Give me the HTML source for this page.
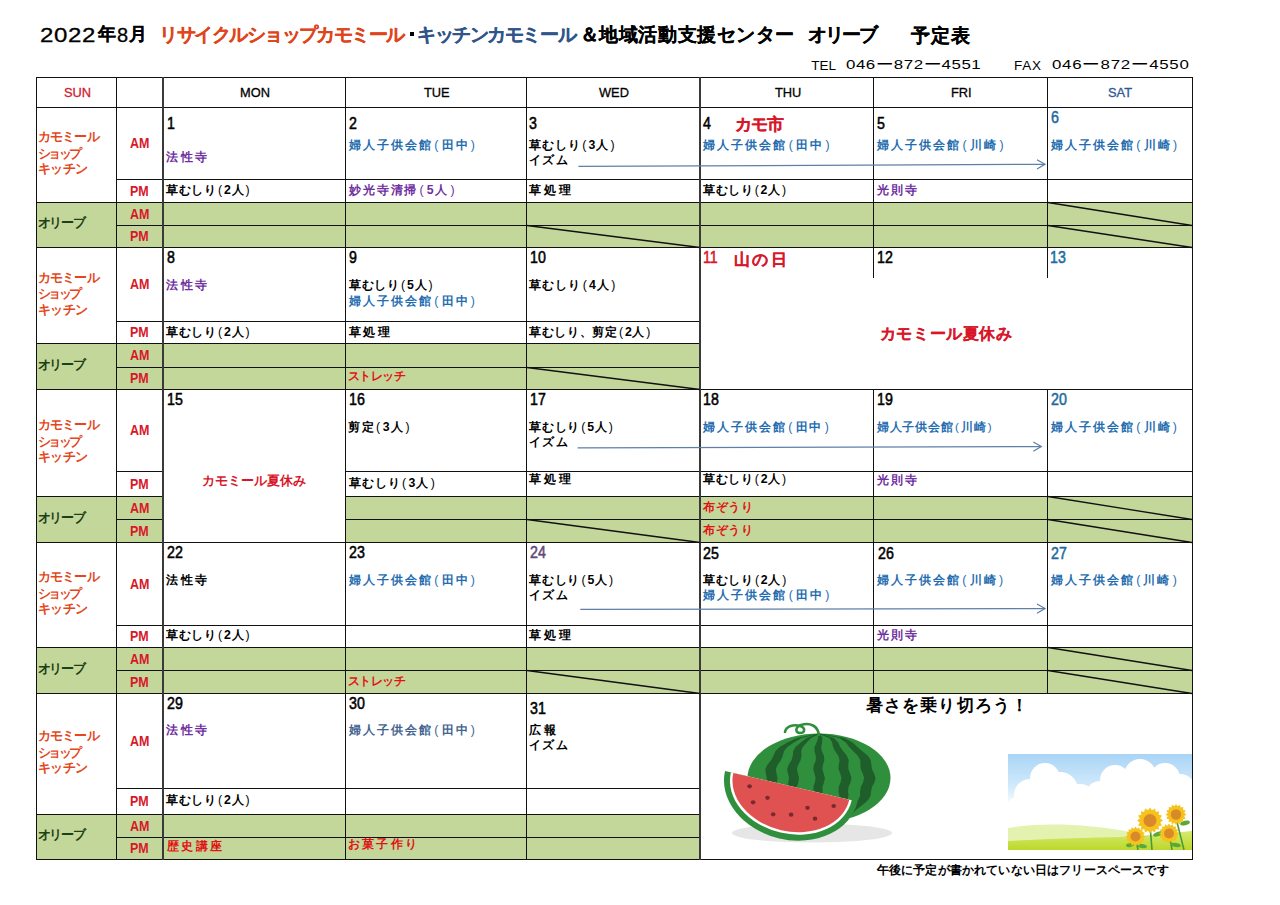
<!DOCTYPE html>
<html lang="ja"><head><meta charset="utf-8"><style>
html,body{margin:0;padding:0;background:#fff;}
body{width:1280px;height:905px;position:relative;overflow:hidden;font-family:"Liberation Sans",sans-serif;}
.r{position:absolute}
.t{position:absolute;white-space:nowrap;line-height:1}
.p{font-weight:normal;margin:0 1.2px}
svg{position:absolute;left:0;top:0}
</style></head><body>
<div class="r" style="left:36px;top:202px;width:1156px;height:45px;background:#c4d79b"></div>
<div class="r" style="left:36px;top:343px;width:664px;height:46px;background:#c4d79b"></div>
<div class="r" style="left:36px;top:496px;width:127px;height:46px;background:#c4d79b"></div>
<div class="r" style="left:345px;top:496px;width:847px;height:46px;background:#c4d79b"></div>
<div class="r" style="left:36px;top:647px;width:1156px;height:46px;background:#c4d79b"></div>
<div class="r" style="left:36px;top:814px;width:664px;height:45px;background:#c4d79b"></div>
<div class="r" style="left:36px;top:77px;width:1157px;height:1px;background:#111"></div>
<div class="r" style="left:36px;top:107px;width:1157px;height:1px;background:#111"></div>
<div class="r" style="left:116px;top:179px;width:1077px;height:1px;background:#111"></div>
<div class="r" style="left:36px;top:202px;width:1157px;height:1px;background:#111"></div>
<div class="r" style="left:116px;top:225px;width:1077px;height:1px;background:#111"></div>
<div class="r" style="left:36px;top:247px;width:1157px;height:1px;background:#111"></div>
<div class="r" style="left:116px;top:321px;width:585px;height:1px;background:#111"></div>
<div class="r" style="left:36px;top:343px;width:665px;height:1px;background:#111"></div>
<div class="r" style="left:116px;top:367px;width:585px;height:1px;background:#111"></div>
<div class="r" style="left:36px;top:389px;width:1157px;height:1px;background:#111"></div>
<div class="r" style="left:116px;top:471px;width:48px;height:1px;background:#111"></div>
<div class="r" style="left:345px;top:471px;width:848px;height:1px;background:#111"></div>
<div class="r" style="left:36px;top:496px;width:128px;height:1px;background:#111"></div>
<div class="r" style="left:345px;top:496px;width:848px;height:1px;background:#111"></div>
<div class="r" style="left:116px;top:519px;width:48px;height:1px;background:#111"></div>
<div class="r" style="left:345px;top:519px;width:848px;height:1px;background:#111"></div>
<div class="r" style="left:36px;top:542px;width:1157px;height:1px;background:#111"></div>
<div class="r" style="left:116px;top:625px;width:1077px;height:1px;background:#111"></div>
<div class="r" style="left:36px;top:647px;width:1157px;height:1px;background:#111"></div>
<div class="r" style="left:116px;top:670px;width:1077px;height:1px;background:#111"></div>
<div class="r" style="left:36px;top:693px;width:1157px;height:1px;background:#111"></div>
<div class="r" style="left:116px;top:788px;width:585px;height:1px;background:#111"></div>
<div class="r" style="left:36px;top:814px;width:665px;height:1px;background:#111"></div>
<div class="r" style="left:116px;top:837px;width:585px;height:1px;background:#111"></div>
<div class="r" style="left:36px;top:859px;width:1157px;height:1px;background:#111"></div>
<div class="r" style="left:36px;top:77px;width:1px;height:783px;background:#111"></div>
<div class="r" style="left:116px;top:77px;width:1px;height:783px;background:#111"></div>
<div class="r" style="left:162px;top:77px;width:2px;height:783px;background:#3a3a3a"></div>
<div class="r" style="left:345px;top:77px;width:1px;height:783px;background:#111"></div>
<div class="r" style="left:526px;top:77px;width:1px;height:783px;background:#111"></div>
<div class="r" style="left:1192px;top:77px;width:1px;height:783px;background:#111"></div>
<div class="r" style="left:699px;top:77px;width:2px;height:783px;background:#3a3a3a"></div>
<div class="r" style="left:873px;top:77px;width:1px;height:171px;background:#111"></div>
<div class="r" style="left:873px;top:247px;width:1px;height:31px;background:#111"></div>
<div class="r" style="left:873px;top:389px;width:1px;height:305px;background:#111"></div>
<div class="r" style="left:1047px;top:77px;width:1px;height:171px;background:#111"></div>
<div class="r" style="left:1047px;top:247px;width:1px;height:31px;background:#111"></div>
<div class="r" style="left:1047px;top:389px;width:1px;height:305px;background:#111"></div>
<div class="r" style="left:410px;top:32px;width:4px;height:4px;background:#000"></div>
<svg width="1280" height="905"><line x1="527" y1="225.5" x2="700" y2="247.5" stroke="#111" stroke-width="1.3"/><line x1="1048" y1="202.5" x2="1192" y2="225.5" stroke="#111" stroke-width="1.3"/><line x1="1048" y1="225.5" x2="1192" y2="247.5" stroke="#111" stroke-width="1.3"/><line x1="527" y1="367.5" x2="700" y2="389.5" stroke="#111" stroke-width="1.3"/><line x1="527" y1="519.5" x2="700" y2="542.5" stroke="#111" stroke-width="1.3"/><line x1="1048" y1="496.5" x2="1192" y2="519.5" stroke="#111" stroke-width="1.3"/><line x1="1048" y1="519.5" x2="1192" y2="542.5" stroke="#111" stroke-width="1.3"/><line x1="527" y1="670.5" x2="700" y2="693.5" stroke="#111" stroke-width="1.3"/><line x1="1048" y1="647.5" x2="1192" y2="670.5" stroke="#111" stroke-width="1.3"/><line x1="1048" y1="670.5" x2="1192" y2="693.5" stroke="#111" stroke-width="1.3"/><ellipse cx="812" cy="833" rx="80" ry="9.5" fill="#e6e6e6"/><ellipse cx="819" cy="778" rx="71.5" ry="44.5" fill="#2f8f3c"/><clipPath id="mc"><ellipse cx="819" cy="778" rx="71.5" ry="44.5"/></clipPath><g clip-path="url(#mc)" fill="#1f5e2a"><polygon points="817.7,733.5 797.0,738.0 787.3,742.4 779.7,746.9 775.4,751.3 773.5,755.8 771.1,760.2 767.5,764.6 765.3,769.1 765.8,773.5 766.8,778.0 766.2,782.5 765.4,786.9 767.2,791.4 770.9,795.8 773.8,800.2 775.7,804.7 779.5,809.1 787.0,813.6 797.0,818.0 818.0,822.5 820.7,822.5 801.6,818.0 793.4,813.6 787.2,809.1 784.3,804.7 783.0,800.2 780.7,795.8 777.4,791.4 775.9,786.9 776.8,782.5 777.5,778.0 776.5,773.5 775.8,769.1 777.7,764.6 780.9,760.2 782.8,755.8 784.0,751.3 787.3,746.9 793.8,742.4 801.6,738.0 820.3,733.5"/><polygon points="817.7,733.5 806.7,738.0 800.7,742.4 795.5,746.9 793.2,751.3 792.8,755.8 791.5,760.2 788.7,764.6 787.1,769.1 787.9,773.5 789.0,778.0 788.3,782.5 787.2,786.9 788.4,791.4 791.2,795.8 793.0,800.2 793.5,804.7 795.4,809.1 800.3,813.6 806.7,818.0 818.1,822.5 820.6,822.5 811.0,818.0 806.3,813.6 802.6,809.1 801.5,804.7 801.7,800.2 800.4,795.8 797.9,791.4 797.0,786.9 798.3,782.5 799.0,778.0 797.9,773.5 796.9,769.1 798.3,764.6 800.6,760.2 801.5,755.8 801.2,751.3 802.7,746.9 806.7,742.4 811.0,738.0 820.3,733.5"/><polygon points="817.8,733.5 818.3,738.0 816.6,742.4 814.5,746.9 814.5,751.3 815.8,755.8 815.9,760.2 814.1,764.6 813.2,769.1 814.4,773.5 815.6,778.0 814.8,782.5 813.3,786.9 813.8,791.4 815.6,795.8 816.1,800.2 814.8,804.7 814.4,809.1 816.3,813.6 818.3,818.0 818.2,822.5 820.5,822.5 822.3,818.0 821.9,813.6 821.1,809.1 822.2,804.7 824.1,800.2 824.1,795.8 822.6,791.4 822.4,786.9 824.0,782.5 824.9,778.0 823.7,773.5 822.3,769.1 823.0,764.6 824.4,760.2 823.9,755.8 821.9,751.3 821.2,746.9 822.2,742.4 822.3,738.0 820.2,733.5"/><polygon points="817.7,733.5 829.5,738.0 832.2,742.4 833.0,746.9 835.2,751.3 838.3,755.8 839.6,760.2 838.8,764.6 838.5,769.1 840.2,773.5 841.5,778.0 840.5,782.5 838.7,786.9 838.5,791.4 839.4,795.8 838.5,800.2 835.5,804.7 832.9,809.1 831.8,813.6 829.6,818.0 818.1,822.5 820.6,822.5 833.9,818.0 837.8,813.6 840.1,809.1 843.5,804.7 847.2,800.2 848.5,795.8 848.0,791.4 848.5,786.9 850.5,782.5 851.5,778.0 850.1,773.5 848.4,769.1 848.3,764.6 848.8,760.2 846.9,755.8 843.2,751.3 840.2,746.9 838.2,742.4 833.9,738.0 820.3,733.5"/><polygon points="817.6,733.5 839.4,738.0 845.8,742.4 849.2,746.9 853.3,751.3 857.8,755.8 860.3,760.2 860.4,764.6 860.7,769.1 862.7,773.5 864.2,778.0 863.0,782.5 860.8,786.9 860.1,791.4 860.1,795.8 858.1,800.2 853.6,804.7 849.1,809.1 845.4,813.6 839.4,818.0 817.9,822.5 820.8,822.5 844.4,818.0 852.3,813.6 857.2,809.1 862.7,804.7 868.0,800.2 870.6,795.8 871.0,791.4 872.0,786.9 874.4,782.5 875.6,778.0 874.1,773.5 871.9,769.1 871.3,764.6 870.8,760.2 867.8,755.8 862.4,751.3 857.4,746.9 852.6,742.4 844.4,738.0 820.4,733.5"/></g><path d="M785,732 C786,726 794,724 800,726 C806,728 805,733 800,733 C795,733 795,727 801,725 C810,722 818,726 819,735" fill="none" stroke="#2f8f3c" stroke-width="2.6" stroke-linecap="round"/><g transform="translate(791.3,786.3) rotate(13)"><path d="M-68,0 A68,53.5 0 0 0 68,0 Z" fill="#2f8f3c"/><path d="M-62,0 A62,47.5 0 0 0 62,0 Z" fill="#ffffff"/><path d="M-59.5,0 A59.5,45 0 0 0 59.5,0 Z" fill="#e05252"/></g><ellipse cx="749.6" cy="786.3" rx="2.3" ry="2.1" fill="#7a2a2a"/><ellipse cx="767.5" cy="797.8" rx="2.3" ry="2.1" fill="#7a2a2a"/><ellipse cx="753.1" cy="802.3" rx="2.3" ry="2.1" fill="#7a2a2a"/><ellipse cx="773.2" cy="814.3" rx="2.3" ry="2.1" fill="#7a2a2a"/><ellipse cx="791.1" cy="814.7" rx="2.3" ry="2.1" fill="#7a2a2a"/><ellipse cx="807.5" cy="807.8" rx="2.3" ry="2.1" fill="#7a2a2a"/><ellipse cx="815" cy="818.7" rx="2.3" ry="2.1" fill="#7a2a2a"/><ellipse cx="833.7" cy="806" rx="2.3" ry="2.1" fill="#7a2a2a"/><defs><linearGradient id="sg" x1="0" y1="0" x2="0" y2="1"><stop offset="0" stop-color="#a9d4f6"/><stop offset="0.35" stop-color="#d4ebfb"/><stop offset="0.55" stop-color="#ffffff"/><stop offset="1" stop-color="#ffffff"/></linearGradient><linearGradient id="gg" x1="0" y1="0" x2="0" y2="1"><stop offset="0" stop-color="#d6ea70"/><stop offset="1" stop-color="#bcd82a"/></linearGradient></defs><rect x="1008" y="754" width="184" height="96" fill="url(#sg)"/><clipPath id="sc"><rect x="1008" y="754" width="184" height="96"/></clipPath><g clip-path="url(#sc)"><circle cx="1045" cy="778" r="15" fill="#ffffff"/><circle cx="1030" cy="795" r="16" fill="#ffffff"/><circle cx="1060" cy="790" r="18" fill="#ffffff"/><circle cx="1080" cy="800" r="16" fill="#ffffff"/><circle cx="1100" cy="795" r="14" fill="#ffffff"/><circle cx="1115" cy="780" r="15" fill="#ffffff"/><circle cx="1140" cy="775" r="16" fill="#ffffff"/><circle cx="1165" cy="778" r="15" fill="#ffffff"/><circle cx="1180" cy="790" r="16" fill="#ffffff"/><circle cx="1150" cy="800" r="20" fill="#ffffff"/><circle cx="1120" cy="805" r="18" fill="#ffffff"/><circle cx="1020" cy="810" r="14" fill="#ffffff"/><circle cx="1050" cy="810" r="16" fill="#ffffff"/><circle cx="1090" cy="815" r="15" fill="#ffffff"/><circle cx="1170" cy="805" r="14" fill="#ffffff"/><circle cx="1132" cy="792" r="11" fill="#ffffff"/><circle cx="1185" cy="800" r="12" fill="#ffffff"/><path d="M1008,828 C1040,822 1090,824 1130,832 L1130,850 L1008,850 Z" fill="#e4f2b0"/><path d="M1008,841 C1060,838 1100,838 1140,836 C1160,834 1180,832 1192,831 L1192,850 L1008,850 Z" fill="url(#gg)"/><line x1="1150" y1="825" x2="1152" y2="850" stroke="#4a9a3a" stroke-width="1.6"/><line x1="1176" y1="818" x2="1184" y2="850" stroke="#4a9a3a" stroke-width="1.6"/><line x1="1136" y1="840" x2="1138" y2="850" stroke="#4a9a3a" stroke-width="1.6"/><line x1="1170" y1="838" x2="1172" y2="850" stroke="#4a9a3a" stroke-width="1.6"/><ellipse cx="1158" cy="834" rx="5" ry="2.2" transform="rotate(-20 1158 834)" fill="#5aa83a"/><ellipse cx="1185" cy="823" rx="5" ry="2.2" transform="rotate(-15 1185 823)" fill="#5aa83a"/><ellipse cx="1142" cy="846" rx="5" ry="2" transform="rotate(10 1142 846)" fill="#5aa83a"/><ellipse cx="1176" cy="845" rx="5" ry="2" transform="rotate(10 1176 845)" fill="#5aa83a"/><ellipse cx="1130" cy="845" rx="4" ry="2" transform="rotate(-10 1130 845)" fill="#5aa83a"/><polygon points="1163.0,820.5 1160.2,822.5 1162.0,825.5 1158.6,826.3 1159.2,829.7 1155.8,829.1 1155.0,832.5 1152.0,830.7 1150.0,833.5 1148.0,830.7 1145.0,832.5 1144.2,829.1 1140.8,829.7 1141.4,826.3 1138.0,825.5 1139.8,822.5 1137.0,820.5 1139.8,818.5 1138.0,815.5 1141.4,814.7 1140.8,811.3 1144.2,811.9 1145.0,808.5 1148.0,810.3 1150.0,807.5 1152.0,810.3 1155.0,808.5 1155.8,811.9 1159.2,811.3 1158.6,814.7 1162.0,815.5 1160.2,818.5" fill="#f6c21c"/><circle cx="1150" cy="820.5" r="6.5" fill="#d88a2a"/><polygon points="1186.5,814.5 1184.2,816.1 1185.7,818.5 1183.0,819.2 1183.4,821.9 1180.7,821.5 1180.0,824.2 1177.6,822.7 1176.0,825.0 1174.4,822.7 1172.0,824.2 1171.3,821.5 1168.6,821.9 1169.0,819.2 1166.3,818.5 1167.8,816.1 1165.5,814.5 1167.8,812.9 1166.3,810.5 1169.0,809.8 1168.6,807.1 1171.3,807.5 1172.0,804.8 1174.4,806.3 1176.0,804.0 1177.6,806.3 1180.0,804.8 1180.7,807.5 1183.4,807.1 1183.0,809.8 1185.7,810.5 1184.2,812.9" fill="#f6c21c"/><circle cx="1176" cy="814.5" r="5.2" fill="#d88a2a"/><polygon points="1145.5,836.5 1143.3,838.1 1144.7,840.3 1142.2,840.9 1142.6,843.6 1139.9,843.2 1139.3,845.7 1137.1,844.3 1135.5,846.5 1133.9,844.3 1131.7,845.7 1131.1,843.2 1128.4,843.6 1128.8,840.9 1126.3,840.3 1127.7,838.1 1125.5,836.5 1127.7,834.9 1126.3,832.7 1128.8,832.1 1128.4,829.4 1131.1,829.8 1131.7,827.3 1133.9,828.7 1135.5,826.5 1137.1,828.7 1139.3,827.3 1139.9,829.8 1142.6,829.4 1142.2,832.1 1144.7,832.7 1143.3,834.9" fill="#f6c21c"/><circle cx="1135.5" cy="836.5" r="5.0" fill="#d88a2a"/><polygon points="1179.0,833.5 1176.8,835.1 1178.2,837.3 1175.7,837.9 1176.1,840.6 1173.4,840.2 1172.8,842.7 1170.6,841.3 1169.0,843.5 1167.4,841.3 1165.2,842.7 1164.6,840.2 1161.9,840.6 1162.3,837.9 1159.8,837.3 1161.2,835.1 1159.0,833.5 1161.2,831.9 1159.8,829.7 1162.3,829.1 1161.9,826.4 1164.6,826.8 1165.2,824.3 1167.4,825.7 1169.0,823.5 1170.6,825.7 1172.8,824.3 1173.4,826.8 1176.1,826.4 1175.7,829.1 1178.2,829.7 1176.8,831.9" fill="#f6c21c"/><circle cx="1169" cy="833.5" r="5.0" fill="#d88a2a"/></g><line x1="578.4" y1="166.4" x2="1045" y2="164.3" stroke="#5f7fa6" stroke-width="1.2"/><polyline points="1037,159.70000000000002 1045,164.3 1037,168.9" fill="none" stroke="#5f7fa6" stroke-width="1.2"/><line x1="577.6" y1="447.8" x2="1041.3" y2="446.6" stroke="#5f7fa6" stroke-width="1.2"/><polyline points="1033.3,442.0 1041.3,446.6 1033.3,451.20000000000005" fill="none" stroke="#5f7fa6" stroke-width="1.2"/><line x1="580.3" y1="609.4" x2="1045" y2="608.6" stroke="#5f7fa6" stroke-width="1.2"/><polyline points="1037,604.0 1045,608.6 1037,613.2" fill="none" stroke="#5f7fa6" stroke-width="1.2"/></svg>
<div class="t" style="left:39.8px;top:24.5px;color:#000;font-size:20px;font-weight:normal;-webkit-text-stroke:0.3px;transform:scaleX(1.2);transform-origin:0 0;letter-spacing:0.528px;">2022</div>
<div class="t" style="left:98.0px;top:25.2px;color:#000;font-size:18px;font-weight:bold;-webkit-text-stroke:0.15px;">年</div>
<div class="t" style="left:117.1px;top:24.5px;color:#000;font-size:20px;font-weight:normal;-webkit-text-stroke:0.3px;transform:scaleX(1.0);transform-origin:0 0;">8</div>
<div class="t" style="left:129.4px;top:25.1px;color:#000;font-size:18px;font-weight:bold;-webkit-text-stroke:0.15px;">月</div>
<div class="t" style="left:159.4px;top:24.9px;color:#e0441a;font-size:19px;font-weight:bold;-webkit-text-stroke:0.15px;letter-spacing:-1.554px;">リサイクルショップカモミール</div>
<div class="t" style="left:417.1px;top:24.5px;color:#30558a;font-size:19px;font-weight:bold;-webkit-text-stroke:0.15px;letter-spacing:-1.438px;">キッチンカモミール</div>
<div class="t" style="left:579.8px;top:25.4px;color:#000;font-size:19px;font-weight:bold;-webkit-text-stroke:0.15px;letter-spacing:0.560px;">＆地域活動支援センター</div>
<div class="t" style="left:808.2px;top:24.8px;color:#000;font-size:19px;font-weight:bold;-webkit-text-stroke:0.15px;letter-spacing:-2.067px;">オリーブ</div>
<div class="t" style="left:910.9px;top:26.4px;color:#000;font-size:19px;font-weight:bold;-webkit-text-stroke:0.15px;letter-spacing:0.900px;">予定表</div>
<div class="t" style="left:811.3px;top:58.9px;color:#000;font-size:13.5px;font-weight:normal;letter-spacing:-0.050px;">TEL</div>
<div class="t" style="left:846.2px;top:58.0px;color:#000;font-size:13.5px;font-weight:normal;transform:scaleX(1.25);transform-origin:0 0;letter-spacing:0.429px;">046ー872ー4551</div>
<div class="t" style="left:1014.0px;top:58.9px;color:#000;font-size:13.5px;font-weight:normal;letter-spacing:0.800px;">FAX</div>
<div class="t" style="left:1051.5px;top:58.0px;color:#000;font-size:13.5px;font-weight:normal;transform:scaleX(1.25);transform-origin:0 0;letter-spacing:0.582px;">046ー872ー4550</div>
<div class="t" style="left:63.5px;top:86.2px;color:#d0202e;font-size:13.5px;font-weight:normal;-webkit-text-stroke:0.3px;transform:scaleX(0.95);transform-origin:0 0;">SUN</div>
<div class="t" style="left:240.0px;top:86.2px;color:#000;font-size:13.5px;font-weight:normal;-webkit-text-stroke:0.3px;transform:scaleX(0.95);transform-origin:0 0;">MON</div>
<div class="t" style="left:424.0px;top:86.2px;color:#000;font-size:13.5px;font-weight:normal;-webkit-text-stroke:0.3px;transform:scaleX(0.95);transform-origin:0 0;">TUE</div>
<div class="t" style="left:599.0px;top:86.2px;color:#000;font-size:13.5px;font-weight:normal;-webkit-text-stroke:0.3px;transform:scaleX(0.95);transform-origin:0 0;">WED</div>
<div class="t" style="left:774.5px;top:86.2px;color:#000;font-size:13.5px;font-weight:normal;-webkit-text-stroke:0.3px;transform:scaleX(0.95);transform-origin:0 0;">THU</div>
<div class="t" style="left:950.5px;top:86.2px;color:#000;font-size:13.5px;font-weight:normal;-webkit-text-stroke:0.3px;transform:scaleX(0.95);transform-origin:0 0;">FRI</div>
<div class="t" style="left:1108.0px;top:86.2px;color:#2f5597;font-size:13.5px;font-weight:normal;-webkit-text-stroke:0.3px;transform:scaleX(0.95);transform-origin:0 0;">SAT</div>
<div class="t" style="left:38.0px;top:131.0px;color:#e4471c;font-size:12.5px;font-weight:bold;letter-spacing:-0.875px;">カモミール</div>
<div class="t" style="left:38.0px;top:147.9px;color:#e4471c;font-size:12.5px;font-weight:bold;letter-spacing:-2.733px;">ショップ</div>
<div class="t" style="left:38.0px;top:163.0px;color:#e4471c;font-size:12.5px;font-weight:bold;letter-spacing:-0.667px;">キッチン</div>
<div class="t" style="left:37.5px;top:216.4px;color:#1e4014;font-size:13px;font-weight:bold;letter-spacing:-1.067px;">オリーブ</div>
<div class="t" style="left:130.2px;top:136.1px;color:#d8182a;font-size:14.5px;font-weight:bold;transform:scaleX(0.86);transform-origin:0 0;">AM</div>
<div class="t" style="left:130.2px;top:183.6px;color:#d8182a;font-size:14.5px;font-weight:bold;transform:scaleX(0.86);transform-origin:0 0;">PM</div>
<div class="t" style="left:130.2px;top:206.6px;color:#d8182a;font-size:14.5px;font-weight:bold;transform:scaleX(0.86);transform-origin:0 0;">AM</div>
<div class="t" style="left:130.2px;top:229.1px;color:#d8182a;font-size:14.5px;font-weight:bold;transform:scaleX(0.86);transform-origin:0 0;">PM</div>
<div class="t" style="left:38.0px;top:271.5px;color:#e4471c;font-size:12.5px;font-weight:bold;letter-spacing:-0.875px;">カモミール</div>
<div class="t" style="left:38.0px;top:288.4px;color:#e4471c;font-size:12.5px;font-weight:bold;letter-spacing:-2.733px;">ショップ</div>
<div class="t" style="left:38.0px;top:303.5px;color:#e4471c;font-size:12.5px;font-weight:bold;letter-spacing:-0.667px;">キッチン</div>
<div class="t" style="left:37.5px;top:357.9px;color:#1e4014;font-size:13px;font-weight:bold;letter-spacing:-1.067px;">オリーブ</div>
<div class="t" style="left:130.2px;top:277.1px;color:#d8182a;font-size:14.5px;font-weight:bold;transform:scaleX(0.86);transform-origin:0 0;">AM</div>
<div class="t" style="left:130.2px;top:325.1px;color:#d8182a;font-size:14.5px;font-weight:bold;transform:scaleX(0.86);transform-origin:0 0;">PM</div>
<div class="t" style="left:130.2px;top:348.1px;color:#d8182a;font-size:14.5px;font-weight:bold;transform:scaleX(0.86);transform-origin:0 0;">AM</div>
<div class="t" style="left:130.2px;top:371.1px;color:#d8182a;font-size:14.5px;font-weight:bold;transform:scaleX(0.86);transform-origin:0 0;">PM</div>
<div class="t" style="left:38.0px;top:419.0px;color:#e4471c;font-size:12.5px;font-weight:bold;letter-spacing:-0.875px;">カモミール</div>
<div class="t" style="left:38.0px;top:435.9px;color:#e4471c;font-size:12.5px;font-weight:bold;letter-spacing:-2.733px;">ショップ</div>
<div class="t" style="left:38.0px;top:451.0px;color:#e4471c;font-size:12.5px;font-weight:bold;letter-spacing:-0.667px;">キッチン</div>
<div class="t" style="left:37.5px;top:510.9px;color:#1e4014;font-size:13px;font-weight:bold;letter-spacing:-1.067px;">オリーブ</div>
<div class="t" style="left:130.2px;top:423.1px;color:#d8182a;font-size:14.5px;font-weight:bold;transform:scaleX(0.86);transform-origin:0 0;">AM</div>
<div class="t" style="left:130.2px;top:476.6px;color:#d8182a;font-size:14.5px;font-weight:bold;transform:scaleX(0.86);transform-origin:0 0;">PM</div>
<div class="t" style="left:130.2px;top:500.6px;color:#d8182a;font-size:14.5px;font-weight:bold;transform:scaleX(0.86);transform-origin:0 0;">AM</div>
<div class="t" style="left:130.2px;top:523.6px;color:#d8182a;font-size:14.5px;font-weight:bold;transform:scaleX(0.86);transform-origin:0 0;">PM</div>
<div class="t" style="left:38.0px;top:571.0px;color:#e4471c;font-size:12.5px;font-weight:bold;letter-spacing:-0.875px;">カモミール</div>
<div class="t" style="left:38.0px;top:587.9px;color:#e4471c;font-size:12.5px;font-weight:bold;letter-spacing:-2.733px;">ショップ</div>
<div class="t" style="left:38.0px;top:603.0px;color:#e4471c;font-size:12.5px;font-weight:bold;letter-spacing:-0.667px;">キッチン</div>
<div class="t" style="left:37.5px;top:661.9px;color:#1e4014;font-size:13px;font-weight:bold;letter-spacing:-1.067px;">オリーブ</div>
<div class="t" style="left:130.2px;top:576.6px;color:#d8182a;font-size:14.5px;font-weight:bold;transform:scaleX(0.86);transform-origin:0 0;">AM</div>
<div class="t" style="left:130.2px;top:629.1px;color:#d8182a;font-size:14.5px;font-weight:bold;transform:scaleX(0.86);transform-origin:0 0;">PM</div>
<div class="t" style="left:130.2px;top:651.6px;color:#d8182a;font-size:14.5px;font-weight:bold;transform:scaleX(0.86);transform-origin:0 0;">AM</div>
<div class="t" style="left:130.2px;top:674.6px;color:#d8182a;font-size:14.5px;font-weight:bold;transform:scaleX(0.86);transform-origin:0 0;">PM</div>
<div class="t" style="left:38.0px;top:730.0px;color:#e4471c;font-size:12.5px;font-weight:bold;letter-spacing:-0.875px;">カモミール</div>
<div class="t" style="left:38.0px;top:746.9px;color:#e4471c;font-size:12.5px;font-weight:bold;letter-spacing:-2.733px;">ショップ</div>
<div class="t" style="left:38.0px;top:762.0px;color:#e4471c;font-size:12.5px;font-weight:bold;letter-spacing:-0.667px;">キッチン</div>
<div class="t" style="left:37.5px;top:828.4px;color:#1e4014;font-size:13px;font-weight:bold;letter-spacing:-1.067px;">オリーブ</div>
<div class="t" style="left:130.2px;top:733.6px;color:#d8182a;font-size:14.5px;font-weight:bold;transform:scaleX(0.86);transform-origin:0 0;">AM</div>
<div class="t" style="left:130.2px;top:794.1px;color:#d8182a;font-size:14.5px;font-weight:bold;transform:scaleX(0.86);transform-origin:0 0;">PM</div>
<div class="t" style="left:130.2px;top:818.6px;color:#d8182a;font-size:14.5px;font-weight:bold;transform:scaleX(0.86);transform-origin:0 0;">AM</div>
<div class="t" style="left:130.2px;top:841.1px;color:#d8182a;font-size:14.5px;font-weight:bold;transform:scaleX(0.86);transform-origin:0 0;">PM</div>
<div class="t" style="left:166.7px;top:115.0px;color:#000;font-size:16.5px;font-weight:normal;-webkit-text-stroke:0.55px;transform:scaleX(0.86);transform-origin:0 0;">1</div>
<div class="t" style="left:166.3px;top:151.3px;color:#7030a0;font-size:12.3px;font-weight:bold;letter-spacing:2.400px;">法性寺</div>
<div class="t" style="left:166.1px;top:183.9px;color:#000;font-size:12.3px;font-weight:bold;letter-spacing:0.700px;">草むしり<span class="p">(</span>2人<span class="p">)</span></div>
<div class="t" style="left:348.9px;top:115.0px;color:#000;font-size:16.5px;font-weight:normal;-webkit-text-stroke:0.55px;transform:scaleX(0.86);transform-origin:0 0;">2</div>
<div class="t" style="left:348.8px;top:138.6px;color:#1f6db0;font-size:12.3px;font-weight:bold;letter-spacing:2.044px;">婦人子供会館<span class="p">(</span>田中<span class="p">)</span></div>
<div class="t" style="left:349.0px;top:183.9px;color:#7030a0;font-size:12.3px;font-weight:bold;letter-spacing:1.862px;">妙光寺清掃<span class="p">(</span>5人<span class="p">)</span></div>
<div class="t" style="left:529.0px;top:115.0px;color:#000;font-size:16.5px;font-weight:normal;-webkit-text-stroke:0.55px;transform:scaleX(0.86);transform-origin:0 0;">3</div>
<div class="t" style="left:529.2px;top:138.6px;color:#000;font-size:12.3px;font-weight:bold;letter-spacing:0.971px;">草むしり<span class="p">(</span>3人<span class="p">)</span></div>
<div class="t" style="left:528.5px;top:153.8px;color:#000;font-size:12.3px;font-weight:bold;letter-spacing:1.750px;">イズム</div>
<div class="t" style="left:529.2px;top:183.9px;color:#000;font-size:12.3px;font-weight:bold;letter-spacing:2.700px;">草処理</div>
<div class="t" style="left:703.1px;top:114.6px;color:#000;font-size:16.5px;font-weight:normal;-webkit-text-stroke:0.55px;transform:scaleX(0.86);transform-origin:0 0;">4</div>
<div class="t" style="left:735.3px;top:115.6px;color:#d8182a;font-size:17px;font-weight:bold;-webkit-text-stroke:0.15px;letter-spacing:-1.200px;">カモ市</div>
<div class="t" style="left:702.9px;top:138.6px;color:#1f6db0;font-size:12.3px;font-weight:bold;letter-spacing:2.089px;">婦人子供会館<span class="p">(</span>田中<span class="p">)</span></div>
<div class="t" style="left:702.9px;top:183.9px;color:#000;font-size:12.3px;font-weight:bold;letter-spacing:0.643px;">草むしり<span class="p">(</span>2人<span class="p">)</span></div>
<div class="t" style="left:877.2px;top:115.0px;color:#000;font-size:16.5px;font-weight:normal;-webkit-text-stroke:0.55px;transform:scaleX(0.86);transform-origin:0 0;">5</div>
<div class="t" style="left:876.5px;top:138.6px;color:#1f6db0;font-size:12.3px;font-weight:bold;letter-spacing:2.144px;">婦人子供会館<span class="p">(</span>川崎<span class="p">)</span></div>
<div class="t" style="left:876.8px;top:183.9px;color:#7030a0;font-size:12.3px;font-weight:bold;letter-spacing:2.300px;">光則寺</div>
<div class="t" style="left:1050.8px;top:109.3px;color:#1e6aa0;font-size:16.5px;font-weight:normal;-webkit-text-stroke:0.55px;transform:scaleX(0.86);transform-origin:0 0;">6</div>
<div class="t" style="left:1050.6px;top:138.6px;color:#1f6db0;font-size:12.3px;font-weight:bold;letter-spacing:2.078px;">婦人子供会館<span class="p">(</span>川崎<span class="p">)</span></div>
<div class="t" style="left:166.7px;top:249.2px;color:#000;font-size:16.5px;font-weight:normal;-webkit-text-stroke:0.55px;transform:scaleX(0.86);transform-origin:0 0;">8</div>
<div class="t" style="left:166.3px;top:279.1px;color:#7030a0;font-size:12.3px;font-weight:bold;letter-spacing:2.400px;">法性寺</div>
<div class="t" style="left:166.1px;top:325.5px;color:#000;font-size:12.3px;font-weight:bold;letter-spacing:0.700px;">草むしり<span class="p">(</span>2人<span class="p">)</span></div>
<div class="t" style="left:349.3px;top:249.2px;color:#000;font-size:16.5px;font-weight:normal;-webkit-text-stroke:0.55px;transform:scaleX(0.86);transform-origin:0 0;">9</div>
<div class="t" style="left:349.0px;top:279.1px;color:#000;font-size:12.3px;font-weight:bold;letter-spacing:0.714px;">草むしり<span class="p">(</span>5人<span class="p">)</span></div>
<div class="t" style="left:348.8px;top:294.6px;color:#1f6db0;font-size:12.3px;font-weight:bold;letter-spacing:2.044px;">婦人子供会館<span class="p">(</span>田中<span class="p">)</span></div>
<div class="t" style="left:349.0px;top:325.5px;color:#000;font-size:12.3px;font-weight:bold;letter-spacing:2.250px;">草処理</div>
<div class="t" style="left:347.6px;top:370.2px;color:#e01414;font-size:12.3px;font-weight:bold;letter-spacing:-0.425px;">ストレッチ</div>
<div class="t" style="left:529.5px;top:249.2px;color:#000;font-size:16.5px;font-weight:normal;-webkit-text-stroke:0.55px;transform:scaleX(0.86);transform-origin:0 0;">10</div>
<div class="t" style="left:529.2px;top:279.1px;color:#000;font-size:12.3px;font-weight:bold;letter-spacing:1.071px;">草むしり<span class="p">(</span>4人<span class="p">)</span></div>
<div class="t" style="left:529.2px;top:325.5px;color:#000;font-size:12.3px;font-weight:bold;letter-spacing:0.650px;">草むしり、剪定<span class="p">(</span>2人<span class="p">)</span></div>
<div class="t" style="left:702.9px;top:249.2px;color:#d8182a;font-size:16.5px;font-weight:normal;-webkit-text-stroke:0.55px;transform:scaleX(0.86);transform-origin:0 0;">11</div>
<div class="t" style="left:734.1px;top:251.5px;color:#d8182a;font-size:15.5px;font-weight:bold;-webkit-text-stroke:0.15px;letter-spacing:2.300px;">山の日</div>
<div class="t" style="left:876.6px;top:249.2px;color:#000;font-size:16.5px;font-weight:normal;-webkit-text-stroke:0.55px;transform:scaleX(0.86);transform-origin:0 0;">12</div>
<div class="t" style="left:1050.3px;top:249.2px;color:#1e6aa0;font-size:16.5px;font-weight:normal;-webkit-text-stroke:0.55px;transform:scaleX(0.86);transform-origin:0 0;">13</div>
<div class="t" style="left:879.6px;top:326.0px;color:#d8182a;font-size:15.5px;font-weight:bold;-webkit-text-stroke:0.15px;letter-spacing:0.643px;">カモミール夏休み</div>
<div class="t" style="left:166.8px;top:391.0px;color:#000;font-size:16.5px;font-weight:normal;-webkit-text-stroke:0.55px;transform:scaleX(0.86);transform-origin:0 0;">15</div>
<div class="t" style="left:201.7px;top:474.6px;color:#d8182a;font-size:12.5px;font-weight:bold;letter-spacing:0.014px;">カモミール夏休み</div>
<div class="t" style="left:349.0px;top:391.0px;color:#000;font-size:16.5px;font-weight:normal;-webkit-text-stroke:0.55px;transform:scaleX(0.86);transform-origin:0 0;">16</div>
<div class="t" style="left:348.2px;top:420.7px;color:#000;font-size:12.3px;font-weight:bold;letter-spacing:1.340px;">剪定<span class="p">(</span>3人<span class="p">)</span></div>
<div class="t" style="left:348.5px;top:476.9px;color:#000;font-size:12.3px;font-weight:bold;letter-spacing:1.086px;">草むしり<span class="p">(</span>3人<span class="p">)</span></div>
<div class="t" style="left:529.7px;top:391.0px;color:#000;font-size:16.5px;font-weight:normal;-webkit-text-stroke:0.55px;transform:scaleX(0.86);transform-origin:0 0;">17</div>
<div class="t" style="left:529.2px;top:420.7px;color:#000;font-size:12.3px;font-weight:bold;letter-spacing:0.714px;">草むしり<span class="p">(</span>5人<span class="p">)</span></div>
<div class="t" style="left:528.5px;top:436.1px;color:#000;font-size:12.3px;font-weight:bold;letter-spacing:1.750px;">イズム</div>
<div class="t" style="left:529.2px;top:473.1px;color:#000;font-size:12.3px;font-weight:bold;letter-spacing:2.700px;">草処理</div>
<div class="t" style="left:702.9px;top:391.0px;color:#000;font-size:16.5px;font-weight:normal;-webkit-text-stroke:0.55px;transform:scaleX(0.86);transform-origin:0 0;">18</div>
<div class="t" style="left:703.2px;top:420.7px;color:#1f6db0;font-size:12.3px;font-weight:bold;letter-spacing:1.978px;">婦人子供会館<span class="p">(</span>田中<span class="p">)</span></div>
<div class="t" style="left:703.2px;top:473.1px;color:#000;font-size:12.3px;font-weight:bold;letter-spacing:0.614px;">草むしり<span class="p">(</span>2人<span class="p">)</span></div>
<div class="t" style="left:703.3px;top:500.9px;color:#e01414;font-size:12.3px;font-weight:bold;letter-spacing:0.467px;">布ぞうり</div>
<div class="t" style="left:703.3px;top:524.0px;color:#e01414;font-size:12.3px;font-weight:bold;letter-spacing:0.467px;">布ぞうり</div>
<div class="t" style="left:876.6px;top:391.0px;color:#000;font-size:16.5px;font-weight:normal;-webkit-text-stroke:0.55px;transform:scaleX(0.86);transform-origin:0 0;">19</div>
<div class="t" style="left:876.7px;top:421.9px;color:#1f6db0;font-size:11.5px;font-weight:bold;letter-spacing:0.844px;">婦人子供会館<span class="p">(</span>川崎<span class="p">)</span></div>
<div class="t" style="left:876.7px;top:473.6px;color:#7030a0;font-size:12.3px;font-weight:bold;letter-spacing:2.200px;">光則寺</div>
<div class="t" style="left:1051.0px;top:390.6px;color:#1e6aa0;font-size:16.5px;font-weight:normal;-webkit-text-stroke:0.55px;transform:scaleX(0.86);transform-origin:0 0;">20</div>
<div class="t" style="left:1051.0px;top:420.7px;color:#1f6db0;font-size:12.3px;font-weight:bold;letter-spacing:2.011px;">婦人子供会館<span class="p">(</span>川崎<span class="p">)</span></div>
<div class="t" style="left:166.6px;top:544.3px;color:#000;font-size:16.5px;font-weight:normal;-webkit-text-stroke:0.55px;transform:scaleX(0.86);transform-origin:0 0;">22</div>
<div class="t" style="left:166.3px;top:573.9px;color:#000;font-size:12.3px;font-weight:bold;letter-spacing:2.400px;">法性寺</div>
<div class="t" style="left:166.1px;top:629.2px;color:#000;font-size:12.3px;font-weight:bold;letter-spacing:0.700px;">草むしり<span class="p">(</span>2人<span class="p">)</span></div>
<div class="t" style="left:349.3px;top:544.3px;color:#000;font-size:16.5px;font-weight:normal;-webkit-text-stroke:0.55px;transform:scaleX(0.86);transform-origin:0 0;">23</div>
<div class="t" style="left:348.8px;top:573.9px;color:#1f6db0;font-size:12.3px;font-weight:bold;letter-spacing:2.044px;">婦人子供会館<span class="p">(</span>田中<span class="p">)</span></div>
<div class="t" style="left:347.6px;top:674.6px;color:#e01414;font-size:12.3px;font-weight:bold;letter-spacing:-0.425px;">ストレッチ</div>
<div class="t" style="left:529.8px;top:544.3px;color:#604a7b;font-size:16.5px;font-weight:normal;-webkit-text-stroke:0.55px;transform:scaleX(0.86);transform-origin:0 0;">24</div>
<div class="t" style="left:529.2px;top:573.9px;color:#000;font-size:12.3px;font-weight:bold;letter-spacing:0.757px;">草むしり<span class="p">(</span>5人<span class="p">)</span></div>
<div class="t" style="left:528.5px;top:588.8px;color:#000;font-size:12.3px;font-weight:bold;letter-spacing:1.750px;">イズム</div>
<div class="t" style="left:529.2px;top:629.2px;color:#000;font-size:12.3px;font-weight:bold;letter-spacing:2.900px;">草処理</div>
<div class="t" style="left:703.3px;top:544.8px;color:#000;font-size:16.5px;font-weight:normal;-webkit-text-stroke:0.55px;transform:scaleX(0.86);transform-origin:0 0;">25</div>
<div class="t" style="left:703.2px;top:573.9px;color:#000;font-size:12.3px;font-weight:bold;letter-spacing:0.629px;">草むしり<span class="p">(</span>2人<span class="p">)</span></div>
<div class="t" style="left:703.2px;top:588.8px;color:#1f6db0;font-size:12.3px;font-weight:bold;letter-spacing:2.044px;">婦人子供会館<span class="p">(</span>田中<span class="p">)</span></div>
<div class="t" style="left:877.6px;top:544.8px;color:#000;font-size:16.5px;font-weight:normal;-webkit-text-stroke:0.55px;transform:scaleX(0.86);transform-origin:0 0;">26</div>
<div class="t" style="left:876.7px;top:573.9px;color:#1f6db0;font-size:12.3px;font-weight:bold;letter-spacing:2.067px;">婦人子供会館<span class="p">(</span>川崎<span class="p">)</span></div>
<div class="t" style="left:876.7px;top:629.2px;color:#7030a0;font-size:12.3px;font-weight:bold;letter-spacing:2.200px;">光則寺</div>
<div class="t" style="left:1051.3px;top:544.8px;color:#1e6aa0;font-size:16.5px;font-weight:normal;-webkit-text-stroke:0.55px;transform:scaleX(0.86);transform-origin:0 0;">27</div>
<div class="t" style="left:1051.0px;top:573.9px;color:#1f6db0;font-size:12.3px;font-weight:bold;letter-spacing:2.000px;">婦人子供会館<span class="p">(</span>川崎<span class="p">)</span></div>
<div class="t" style="left:166.7px;top:695.0px;color:#000;font-size:16.5px;font-weight:normal;-webkit-text-stroke:0.55px;transform:scaleX(0.86);transform-origin:0 0;">29</div>
<div class="t" style="left:166.3px;top:723.7px;color:#7030a0;font-size:12.3px;font-weight:bold;letter-spacing:2.400px;">法性寺</div>
<div class="t" style="left:166.1px;top:794.3px;color:#000;font-size:12.3px;font-weight:bold;letter-spacing:0.700px;">草むしり<span class="p">(</span>2人<span class="p">)</span></div>
<div class="t" style="left:166.5px;top:840.2px;color:#e01414;font-size:12.3px;font-weight:bold;letter-spacing:2.500px;">歴史講座</div>
<div class="t" style="left:349.3px;top:695.0px;color:#000;font-size:16.5px;font-weight:normal;-webkit-text-stroke:0.55px;transform:scaleX(0.86);transform-origin:0 0;">30</div>
<div class="t" style="left:348.8px;top:723.7px;color:#44648f;font-size:12.3px;font-weight:bold;letter-spacing:2.044px;">婦人子供会館<span class="p">(</span>田中<span class="p">)</span></div>
<div class="t" style="left:347.5px;top:838.2px;color:#e01414;font-size:12.3px;font-weight:bold;letter-spacing:2.450px;">お菓子作り</div>
<div class="t" style="left:529.7px;top:699.9px;color:#000;font-size:16.5px;font-weight:normal;-webkit-text-stroke:0.55px;transform:scaleX(0.86);transform-origin:0 0;">31</div>
<div class="t" style="left:529.2px;top:723.7px;color:#000;font-size:12.3px;font-weight:bold;letter-spacing:3.000px;">広報</div>
<div class="t" style="left:528.5px;top:739.4px;color:#000;font-size:12.3px;font-weight:bold;letter-spacing:1.750px;">イズム</div>
<div class="t" style="left:865.9px;top:696.8px;color:#000;font-size:17px;font-weight:bold;letter-spacing:1.125px;">暑さを乗り切ろう！</div>
<div class="t" style="left:876.8px;top:864.1px;color:#000;font-size:12px;font-weight:bold;letter-spacing:0.165px;">午後に予定が書かれていない日はフリースペースです</div>
</body></html>
